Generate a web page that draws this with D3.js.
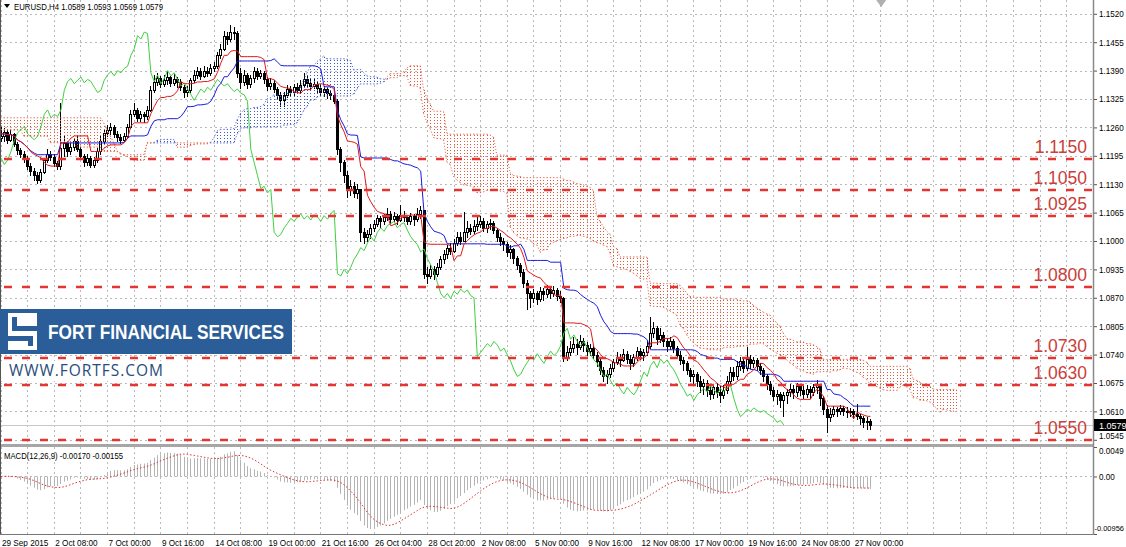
<!DOCTYPE html>
<html><head><meta charset="utf-8">
<script src="https://cdn.jsdelivr.net/npm/d3@7"></script>
<style>
body{margin:0;background:#fff;}
svg{display:block;font-family:"Liberation Sans",Arial,sans-serif;}
</style></head>
<body><svg id="c" width="1126" height="547"></svg>
<script>
// ---- DATA (prices in pips above 1.0000, EURUSD H4) ----
const firstOpen = 1235;
const closes = [1240,1250,1232,1245,1222,1208,1200,1190,1172,1160,1150,1140,1158,1185,1200,1192,1178,1172,1212,1225,
1205,1215,1228,1210,1195,1180,1190,1175,1185,1205,1230,1248,1255,1262,1245,1238,1232,1240,1262,1290,
1300,1282,1290,1285,1300,1345,1365,1372,1360,1368,1375,1362,1370,1365,1352,1340,1345,1368,1380,1388,
1378,1390,1385,1395,1400,1425,1440,1470,1462,1478,1475,1385,1365,1380,1360,1372,1390,1378,1385,1370,
1355,1362,1348,1335,1322,1335,1348,1340,1352,1345,1358,1370,1362,1355,1360,1350,1342,1348,1338,1335,
1320,1210,1180,1150,1120,1125,1110,1118,1020,1010,1015,1030,1040,1052,1045,1055,1062,1050,1058,1048,
1060,1055,1045,1058,1050,1062,1070,925,920,935,925,940,958,970,985,978,995,1010,1000,1020,
1030,1022,1035,1040,1045,1030,1038,1042,1025,1010,1000,992,975,982,960,945,930,905,880,870,
880,868,885,878,890,882,888,875,870,735,745,755,765,758,770,762,748,755,740,725,
705,690,695,710,722,735,728,742,730,720,735,748,738,745,760,790,800,775,785,770,
760,770,755,740,728,720,705,690,695,680,668,675,660,650,665,655,648,660,680,700,
690,715,725,710,730,720,728,715,705,690,672,660,645,650,635,648,655,662,655,668,
660,650,662,655,665,670,640,615,598,605,615,610,618,612,608,612,605,600,595,585,
589,579];
const highs = [1262,1258,1254,1256,1248,1226,1214,1206,1195,1178,1166,1158,1164,1190,1210,1206,1198,1184,1316,1240,
1230,1225,1235,1240,1215,1200,1198,1195,1192,1212,1240,1255,1265,1270,1265,1252,1245,1248,1268,1300,
1316,1305,1298,1295,1310,1355,1380,1385,1378,1380,1390,1378,1382,1375,1370,1358,1355,1372,1392,1398,
1395,1400,1398,1405,1410,1432,1450,1480,1478,1494,1490,1480,1395,1392,1385,1380,1398,1395,1392,1390,
1375,1372,1368,1352,1340,1342,1356,1355,1360,1362,1368,1385,1378,1370,1372,1365,1358,1355,1352,1345,
1340,1325,1215,1185,1160,1140,1135,1130,1120,1030,1025,1040,1048,1060,1058,1062,1075,1068,1066,1062,
1082,1068,1060,1064,1062,1075,1080,1072,940,945,942,950,965,980,990,995,1005,1020,1020,1066,
1045,1040,1048,1055,1058,1052,1046,1050,1045,1030,1018,1008,998,990,985,965,950,935,910,885,
890,885,895,892,900,895,898,892,885,872,760,770,780,775,785,778,768,765,760,745,
730,712,705,718,730,745,742,752,748,738,742,758,755,752,770,826,815,805,800,792,
778,780,775,760,748,735,725,710,705,700,690,685,682,670,672,675,668,670,690,712,
712,725,735,732,758,738,735,732,720,710,695,680,665,658,655,655,662,672,670,675,
672,668,670,668,672,682,672,645,625,618,622,620,625,622,620,618,616,628,605,600,
598,593];
const lows = [1228,1230,1225,1228,1218,1200,1192,1180,1165,1150,1140,1133,1136,1155,1180,1185,1172,1165,1165,1195,
1195,1198,1208,1205,1188,1172,1175,1170,1170,1180,1200,1225,1240,1245,1238,1230,1225,1228,1235,1258,
1285,1275,1275,1272,1280,1298,1340,1358,1352,1355,1360,1355,1358,1352,1345,1330,1332,1340,1365,1372,
1370,1375,1378,1380,1388,1395,1420,1438,1452,1458,1462,1375,1350,1358,1350,1352,1365,1370,1372,1362,
1345,1348,1340,1325,1310,1308,1330,1332,1335,1338,1340,1352,1355,1345,1350,1340,1335,1332,1328,1325,
1315,1200,1160,1135,1100,1105,1100,1098,1000,995,1000,1008,1022,1035,1032,1040,1048,1042,1045,1040,
1045,1046,1038,1040,1036,1045,1052,915,905,915,912,920,935,950,962,970,975,990,992,1000,
1010,1015,1018,1025,1032,1022,1020,1028,1018,1000,990,980,965,962,950,935,920,895,845,848,
860,855,862,866,872,870,875,865,860,725,728,740,745,742,752,748,740,738,732,715,
695,680,676,688,702,718,715,725,720,708,715,728,730,728,740,755,780,765,768,760,
748,752,745,732,718,705,695,680,675,668,655,650,645,638,640,642,632,640,652,672,
682,685,705,700,705,710,712,705,695,680,662,650,635,628,620,600,630,645,640,645,
648,640,642,640,648,652,625,605,562,588,600,600,605,602,598,600,596,592,582,575,
570,569];
// Ichimoku cloud for the first bars (comes from bars before the visible window)
const spanALead = [1254,1254,1254,1254,1254,1254,1254,1240,1240,1240,1240,1240,1240,1240,1240,1225,1225,1225,1225,1225,
1225,1225,1225,1215,1215,1215,1215,1215,1215,1215,1215,1205,1205,1205,1205];
const spanBLead = [1282,1282,1282,1282,1282,1282,1282,1282,1282,1282,1282,1282,1282,1282,1282,1282,1282,1282,1282,1282,
1282,1282,1282,1282,1282,1282,1282,1282,1282,1282,1282,1270,1255,1240,1225];
const priceTicks = [1.1520,1.1455,1.1390,1.1325,1.1260,1.1195,1.1130,1.1065,1.1000,1.0935,1.0870,1.0805,1.0740,1.0675,1.0610,1.0545];
const timeLabels = ["29 Sep 2015","2 Oct 08:00","7 Oct 00:00","9 Oct 16:00","14 Oct 08:00","19 Oct 00:00","21 Oct 16:00","26 Oct 04:00","28 Oct 20:00","2 Nov 08:00","5 Nov 00:00","9 Nov 16:00","12 Nov 08:00","17 Nov 00:00","19 Nov 16:00","24 Nov 08:00","27 Nov 00:00"];
const timeLabelBars = [0,16,32,48,64,80,96,112,128,144,160,176,192,208,224,240,256];
const levelPrices = [1.1188,1.1117,1.1057,1.0895,1.0732,1.0670,1.0545];
const levelLabels = ["1.1150","1.1050","1.0925","1.0800","1.0730","1.0630","1.0550"];
const macdTicks = [0.0049,0,-0.00956];
const macdTickLabels = ["0.0049","0.00","-0.00956"];
const headerText = "EURUSD,H4  1.0589 1.0593 1.0569 1.0579";
const macdText = "MACD(12,26,9) -0.00170 -0.00155";
const lastPrice = 1.0579;

// ---- LAYOUT ----
const svg = d3.select("#c");
const AX = 1093, MAIN_BOT = 444, M_TOP = 447, M_BOT = 534;
const x = d3.scaleLinear().domain([0, 328]).range([0.5, 0.5 + 328 * 3.331]);
const y = d3.scaleLinear().domain([1.053536, 1.155161]).range([MAIN_BOT, 0]);
const ym = d3.scaleLinear().domain([-0.00956, 0.0049]).range([M_BOT, M_TOP]);
const P = v => 1 + v / 10000;
const px = v => Math.round(v) + 0.5;

const N = closes.length;
const cl = closes.map(P), hi = highs.map(P), lo = lows.map(P);
const op = cl.map((c, i) => i ? cl[i - 1] : P(firstOpen));

function mid(i, n) { let a = -Infinity, b = Infinity;
  for (let k = Math.max(0, i - n + 1); k <= i; k++) { a = Math.max(a, hi[k]); b = Math.min(b, lo[k]); }
  return (a + b) / 2; }
const tenkan = d3.range(N).map(i => mid(i, 9));
const kijun = d3.range(N).map(i => mid(i, 26));
const cloud = d3.range(N + 26).map(j => {
  if (j < spanALead.length) return { j, a: P(spanALead[j]), b: P(spanBLead[j]) };
  const k = j - 26; return { j, a: (tenkan[k] + kijun[k]) / 2, b: mid(k, 52) };
});
// MACD
let e12 = cl[0], e26 = cl[0]; const macd = [], sig = [];
cl.forEach((c, i) => { e12 += 2 / 13 * (c - e12); e26 += 2 / 27 * (c - e26); macd.push(e12 - e26);
  sig.push(d3.mean(macd.slice(Math.max(0, i - 8)))); });

const defs = svg.append("defs");
defs.append("clipPath").attr("id", "cm").append("rect").attr("x", 0).attr("y", 0).attr("width", AX).attr("height", MAIN_BOT);
defs.append("clipPath").attr("id", "cd").append("rect").attr("x", 0).attr("y", M_TOP).attr("width", AX).attr("height", M_BOT - M_TOP);

// ---- GRID ----
const grid = svg.append("g").attr("stroke", "#b9b9b9").attr("stroke-dasharray", "2,3").attr("stroke-width", 1);
const vb = d3.range(0, 329, 8);
grid.selectAll(".vg").data(vb).join("line").attr("x1", d => px(x(d))).attr("x2", d => px(x(d)))
  .attr("y1", 0).attr("y2", MAIN_BOT);
grid.selectAll(".vg2").data(vb).join("line").attr("x1", d => px(x(d))).attr("x2", d => px(x(d)))
  .attr("y1", M_TOP).attr("y2", M_BOT);
grid.selectAll(".hg").data(priceTicks).join("line").attr("x1", 0).attr("x2", AX)
  .attr("y1", d => px(y(d))).attr("y2", d => px(y(d)));
grid.append("line").attr("x1", 0).attr("x2", AX).attr("y1", px(ym(0))).attr("y2", px(ym(0)));

const main = svg.append("g").attr("clip-path", "url(#cm)");

// bid line
main.append("line").attr("x1", 0).attr("x2", AX).attr("y1", px(y(lastPrice))).attr("y2", px(y(lastPrice)))
  .attr("stroke", "#c8c8c8");

// ---- CANDLES ----
const cg = main.append("g");
d3.range(N).forEach(i => {
  const cx = Math.round(x(i));
  cg.append("line").attr("x1", cx + 0.5).attr("x2", cx + 0.5).attr("y1", Math.round(y(hi[i]))).attr("y2", Math.round(y(lo[i])) + 1)
    .attr("stroke", "#000");
  const top = Math.round(y(Math.max(op[i], cl[i]))), bot = Math.round(y(Math.min(op[i], cl[i])));
  if (cl[i] >= op[i]) {
    cg.append("rect").attr("x", cx - 0.5).attr("y", top + 0.5).attr("width", 2).attr("height", Math.max(bot - top, 1))
      .attr("fill", "#fff").attr("stroke", "#000").attr("stroke-width", 1);
  } else {
    cg.append("rect").attr("x", cx - 1).attr("y", top).attr("width", 3).attr("height", Math.max(bot - top, 1) + 1)
      .attr("fill", "#000");
  }
});

// ---- ICHIMOKU CLOUD ----
const RED = "#e2573a", BLUE = "#3c57cf";
const kg = main.append("g").attr("stroke-width", 1);
cloud.forEach(d => {
  const t = y(Math.max(d.a, d.b)), b = y(Math.min(d.a, d.b));
  if (b - t < 1) return;
  const xx = px(x(d.j)), y0 = Math.ceil(t / 3) * 3;
  kg.append("line").attr("x1", xx).attr("x2", xx).attr("y1", y0).attr("y2", b)
    .attr("stroke", d.a > d.b ? BLUE : RED).attr("stroke-dasharray", "1,2");
});
for (let j = 0; j < cloud.length - 1; j++) {
  const c0 = cloud[j], c1 = cloud[j + 1], col = c0.a > c0.b ? BLUE : RED;
  ["a", "b"].forEach(k => kg.append("line").attr("x1", x(j)).attr("x2", x(j + 1)).attr("y1", y(c0[k])).attr("y2", y(c1[k]))
    .attr("stroke", col).attr("stroke-dasharray", "1,2"));
}

// ---- ICHIMOKU LINES ----
const line = d3.line().x(d => x(d[0]) + 0.5).y(d => y(d[1]));
main.append("path").attr("d", line(d3.range(N - 26).map(i => [i, cl[i + 26]]))).attr("fill", "none").attr("stroke", "#3fd03f");
main.append("path").attr("d", line(d3.range(N).map(i => [i, kijun[i]]))).attr("fill", "none").attr("stroke", "#1a1ae0");
main.append("path").attr("d", line(d3.range(N).map(i => [i, tenkan[i]]))).attr("fill", "none").attr("stroke", "#e01818");

// ---- LEVEL LINES ----
const lv = svg.append("g");
lv.selectAll("line").data(levelPrices).join("line").attr("x1", 0).attr("x2", AX)
  .attr("y1", d => Math.round(y(d))).attr("y2", d => Math.round(y(d)))
  .attr("stroke", "#e53530").attr("stroke-width", 2.6).attr("stroke-dasharray", "8,10").attr("stroke-dashoffset", -4);
lv.selectAll("text").data(levelPrices).join("text").attr("x", 1087).attr("y", d => Math.round(y(d)) - 6)
  .attr("text-anchor", "end").attr("font-size", 17.5).attr("fill", "#c9403a").text((d, i) => levelLabels[i]);

// ---- MACD ----
const mg = svg.append("g").attr("clip-path", "url(#cd)");
macd.forEach((v, i) => mg.append("line").attr("x1", px(x(i))).attr("x2", px(x(i))).attr("y1", ym(0)).attr("y2", ym(v))
  .attr("stroke", "#b4b4b4"));
mg.append("path").attr("d", d3.line().x((d, i) => x(i) + 0.5).y(d => ym(d))(sig)).attr("fill", "none")
  .attr("stroke", "#e03030").attr("stroke-dasharray", "1.5,2");

// ---- FRAME & AXES ----
svg.append("rect").attr("x", AX).attr("y", 0).attr("width", 1126 - AX).attr("height", 547).attr("fill", "#fff");
svg.append("rect").attr("x", 0).attr("y", M_BOT).attr("width", AX).attr("height", 547 - M_BOT).attr("fill", "#fff");
svg.append("rect").attr("x", 0).attr("y", MAIN_BOT).attr("width", AX + 1).attr("height", M_TOP - MAIN_BOT).attr("fill", "#a6a6a6");
svg.append("line").attr("x1", 0.5).attr("x2", 0.5).attr("y1", 0).attr("y2", M_BOT).attr("stroke", "#555");
svg.append("line").attr("x1", 0).attr("x2", AX + 1).attr("y1", M_BOT + 0.5).attr("y2", M_BOT + 0.5).attr("stroke", "#777");
svg.append("line").attr("x1", AX + 0.5).attr("x2", AX + 0.5).attr("y1", 0).attr("y2", M_BOT + 1).attr("stroke", "#8a8a8a").attr("stroke-width", 1.5);

function fit(sel, f) { sel.each(function () { const w = this.getComputedTextLength() * f;
  d3.select(this).attr("textLength", w).attr("lengthAdjust", "spacingAndGlyphs"); }); }

const ya = svg.append("g").attr("transform", `translate(${AX + 1},0)`)
  .call(d3.axisRight(y).tickValues(priceTicks).tickFormat(d3.format(".4f")).tickSize(3).tickPadding(2));
ya.select(".domain").remove();
ya.selectAll("line").attr("stroke", "#555");
ya.selectAll("text").attr("font-size", 9).attr("fill", "#000").attr("font-family", "Liberation Sans, Arial");
ya.selectAll(".tick").filter(d => d === 1.0545).select("text").attr("dy", "-0.1em");
fit(ya.selectAll("text"), 0.9);

const ma = svg.append("g").attr("transform", `translate(${AX + 1},0)`)
  .call(d3.axisRight(ym).tickValues(macdTicks).tickFormat((d, i) => macdTickLabels[i]).tickSize(3).tickPadding(2));
ma.select(".domain").remove();
ma.selectAll("line").attr("stroke", "#555");
ma.selectAll("text").attr("font-size", 9).attr("fill", "#000").attr("font-family", "Liberation Sans, Arial");
ma.selectAll(".tick").filter(d => d === 0.0049).select("text").attr("dy", "0.75em");
fit(ma.selectAll(".tick").filter(d => d >= 0).select("text"), 0.9);
ma.selectAll(".tick").filter(d => d < 0).select("text")
  .attr("dy", "-0.5em").attr("font-size", 7.5).attr("text-anchor", "end").attr("x", 1124 - AX - 1);

// current price box
svg.append("rect").attr("x", AX + 1).attr("y", Math.round(y(lastPrice)) - 6).attr("width", 32).attr("height", 12).attr("fill", "#000");
svg.append("text").attr("x", AX + 6).attr("y", Math.round(y(lastPrice)) + 3.5).attr("font-size", 9).attr("fill", "#fff").text(d3.format(".4f")(lastPrice));

const xa = svg.append("g").attr("transform", `translate(0,${M_BOT})`)
  .call(d3.axisBottom(x).tickValues(timeLabelBars).tickFormat((d, i) => timeLabels[i]).tickSize(0).tickPadding(5));
xa.select(".domain").remove();
xa.selectAll("text").attr("text-anchor", "start").attr("dx", "1").attr("font-size", 9.5).attr("fill", "#000").attr("font-family", "Liberation Sans, Arial");
fit(xa.selectAll("text"), 0.86);

// chart-shift marker
svg.append("path").attr("d", `M${x(262) + 3},0 L${x(262) + 13},0 L${x(262) + 8},7 Z`).attr("fill", "#b0b0b0");

// header texts
svg.append("path").attr("d", "M4,4 L10,4 L7,8 Z").attr("fill", "#000");
const ht = svg.append("text").attr("x", 14).attr("y", 9.5).attr("font-size", 9).attr("fill", "#000").text(headerText);
ht.attr("textLength", 149).attr("lengthAdjust", "spacingAndGlyphs");
svg.append("text").attr("x", 4).attr("y", 459).attr("font-size", 9).attr("fill", "#000").text(macdText)
  .attr("textLength", 119).attr("lengthAdjust", "spacingAndGlyphs");

// ---- LOGO ----
const lg = svg.append("g");
lg.append("rect").attr("x", 0).attr("y", 309).attr("width", 292).attr("height", 45).attr("fill", "#2b5d98");
lg.append("rect").attr("x", 8).attr("y", 313).attr("width", 29).attr("height", 37).attr("fill", "#fff");
lg.append("rect").attr("x", 12).attr("y", 317).attr("width", 5).attr("height", 14).attr("fill", "#2b5d98");
lg.append("rect").attr("x", 17).attr("y", 326).attr("width", 20).attr("height", 5).attr("fill", "#2b5d98");
lg.append("rect").attr("x", 8).attr("y", 336).attr("width", 20).attr("height", 5).attr("fill", "#2b5d98");
lg.append("rect").attr("x", 28).attr("y", 336).attr("width", 5).attr("height", 10).attr("fill", "#2b5d98");
lg.append("text").attr("x", 48).attr("y", 339).attr("font-size", 21).attr("font-weight", "bold")
  .attr("font-family", "'Liberation Sans Narrow','Liberation Sans',Arial").attr("fill", "#fff")
  .attr("textLength", 236).attr("lengthAdjust", "spacingAndGlyphs").text("FORT FINANCIAL SERVICES");
lg.append("rect").attr("x", 1).attr("y", 361).attr("width", 170).attr("height", 20).attr("fill", "#fff");
lg.append("text").attr("x", 9).attr("y", 376).attr("font-size", 15.5).attr("font-family", "'Open Sans','Liberation Sans',Arial")
  .attr("fill", "#284d7c").attr("textLength", 154).attr("lengthAdjust", "spacing").text("WWW.FORTFS.COM");
</script></body></html>
